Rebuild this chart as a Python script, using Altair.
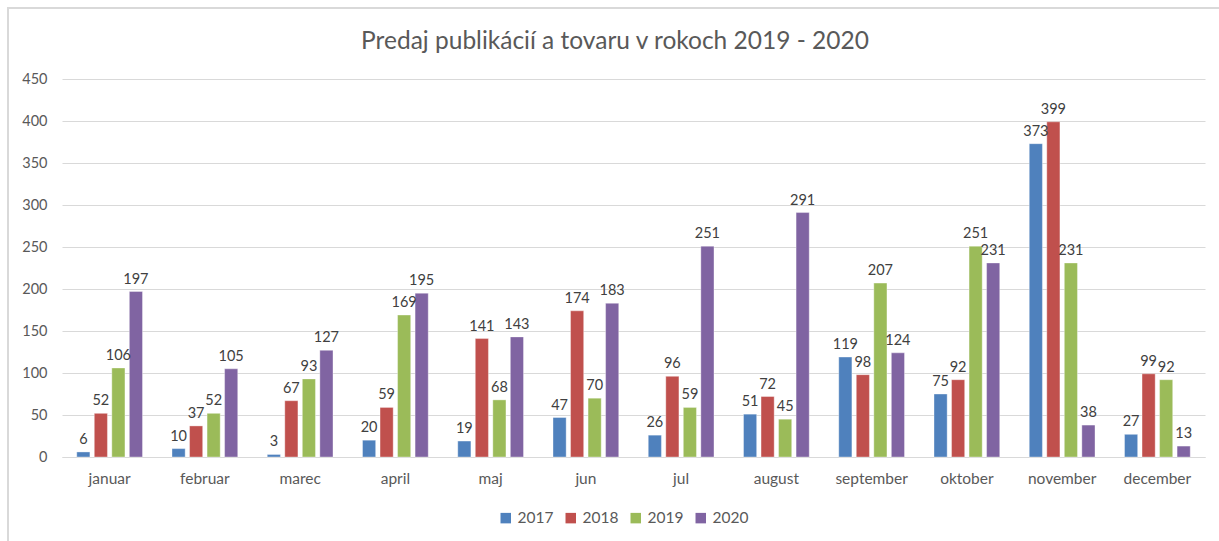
import altair as alt
import pandas as pd

months = ["januar", "februar", "marec", "april", "maj", "jun", "jul", "august",
          "september", "oktober", "november", "december"]
years = ["2017", "2018", "2019", "2020"]
v2017 = [6, 10, 3, 20, 19, 47, 26, 51, 119, 75, 373, 27]
v2018 = [52, 37, 67, 59, 141, 174, 96, 72, 98, 92, 399, 99]
v2019 = [106, 52, 93, 169, 68, 70, 59, 45, 207, 251, 231, 92]
v2020 = [197, 105, 127, 195, 143, 183, 251, 291, 124, 231, 38, 13]
colors = ["#4F81BD", "#C0504D", "#9BBB59", "#8064A2"]
title_text = "Predaj publikácií a tovaru v rokoch 2019 - 2020"

rows = []
for y, vals in zip(years, [v2017, v2018, v2019, v2020]):
    for m, v in zip(months, vals):
        rows.append({"mesiac": m, "rok": y, "hodnota": v})
df = pd.DataFrame(rows)

FONT = "Lato"
TXT = "#595959"

x = alt.X("mesiac:N", sort=months, title=None,
          scale=alt.Scale(paddingInner=0.31, paddingOuter=0.155),
          axis=alt.Axis(labelAngle=0, domain=True, domainColor="#D9D9D9", domainWidth=1.2,
                        ticks=False, grid=False,
                        labelFontSize=15.5, labelColor=TXT, labelFont=FONT, labelPadding=14))
xo = alt.XOffset("rok:N", sort=years, scale=alt.Scale(paddingInner=0.25, paddingOuter=0))
y = alt.Y("hodnota:Q", title=None,
          scale=alt.Scale(domain=[0, 450], nice=False),
          axis=alt.Axis(values=list(range(0, 451, 50)), domain=False, ticks=False,
                        gridColor="#D9D9D9", gridWidth=1.2, labelFontSize=14.5,
                        labelColor=TXT, labelFont=FONT, labelPadding=15))

base = alt.Chart(df)

one = pd.DataFrame({"t": [title_text]})

border = alt.Chart(one).mark_rect(
    fill=None, stroke="#D9D9D9", strokeWidth=2
).encode(x=alt.value(-54), x2=alt.value(1300), y=alt.value(-71), y2=alt.value(600))

title = alt.Chart(one).mark_text(
    fontSize=24.5, font=FONT, color=TXT, align="center", baseline="middle"
).encode(x=alt.value(553), y=alt.value(-37), text="t:N")

bars = base.mark_bar(stroke="#FFFFFF", strokeWidth=0.6, strokeOpacity=0.6).encode(
    x=x, xOffset=xo, y=y,
    color=alt.Color("rok:N", sort=years, title=None,
                    scale=alt.Scale(domain=years, range=colors),
                    legend=alt.Legend(orient="none", legendX=436, legendY=431,
                                      direction="horizontal", symbolType="square",
                                      symbolSize=110, symbolStrokeWidth=0,
                                      labelFontSize=15.5, labelColor=TXT, labelFont=FONT,
                                      columnPadding=9, labelOffset=4)))

labels = base.mark_text(dy=-12, fontSize=14.5, color="#404040", font=FONT).encode(
    x=x, xOffset=xo, y=y, text="hodnota:Q")

chart = alt.layer(border, title, bars, labels).properties(
    width=1143, height=378,
    autosize=alt.AutoSizeParams(type="none"),
    padding={"left": 62, "top": 79, "right": 14, "bottom": 84},
).configure(background="white").configure_view(stroke=None)

chart.save("out.html", embed_options={"renderer": "svg", "actions": False})
